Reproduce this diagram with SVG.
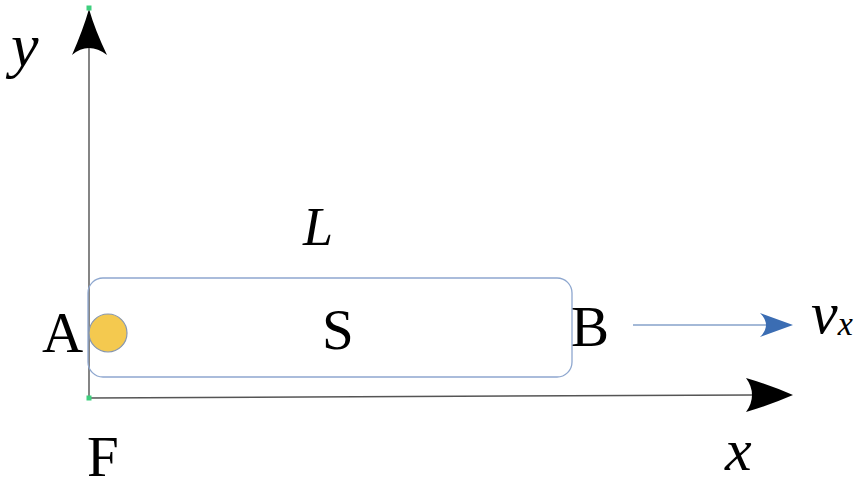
<svg xmlns="http://www.w3.org/2000/svg" width="861" height="482" viewBox="0 0 861 482">
<style>
.lbl{font-family:"Liberation Serif","DejaVu Serif",serif;font-size:57px;fill:#000}
.it{font-family:"Liberation Serif","DejaVu Serif",serif;font-style:italic;fill:#000}
.pt{fill:#3ecf7e}
</style>
<rect width="861" height="482" fill="#fff"/>
<g id="connectors">
<line x1="89" y1="398" x2="89" y2="45" stroke="#333" stroke-width="1.2"/>
<path d="M89,9 Q95,30 107,55 Q98,48 89,48 Q80,48 72,55 Q83,30 89,9 Z" fill="#000"/>
<line x1="89" y1="398" x2="752" y2="395" stroke="#555" stroke-width="1.5"/>
<path d="M793,395 Q770,385 746,378 Q752,386 752,395 Q752,404 746,412 Q770,405 793,395 Z" fill="#000"/>
<line x1="633" y1="325" x2="766" y2="325" stroke="#4a74b0" stroke-width="1.2"/>
<path d="M793,325 L760,313 Q766,319 766,325 Q766,331 760,337 Z" fill="#3b6db3"/>
<rect class="pt" x="86.5" y="5.5" width="5" height="5"/>
<rect class="pt" x="86.5" y="395.5" width="5" height="5"/>
</g>
<g id="S">
<rect x="88" y="278" width="484" height="99" rx="15" ry="15" fill="none" stroke="#8ea7cf" stroke-width="1.3"/>
<text class="lbl" x="322" y="349">S</text>
</g>
<g id="particle">
<circle cx="108" cy="333" r="19" fill="#f4c94f" stroke="#8797b0" stroke-width="1.2"/>
</g>
<g id="labels">
<text class="lbl" x="42" y="352">A</text>
<text class="lbl" x="571" y="346">B</text>
<text class="lbl" x="87" y="476" font-size="55">F</text>
<text class="it" x="303" y="245" font-size="54">L</text>
<text class="it" x="11" y="66" font-size="62">y</text>
<text class="it" x="725" y="470" font-size="60">x</text>
<text class="it" x="811" y="333" font-size="60">v<tspan font-size="34" dy="2">x</tspan></text>
</g>
</svg>
